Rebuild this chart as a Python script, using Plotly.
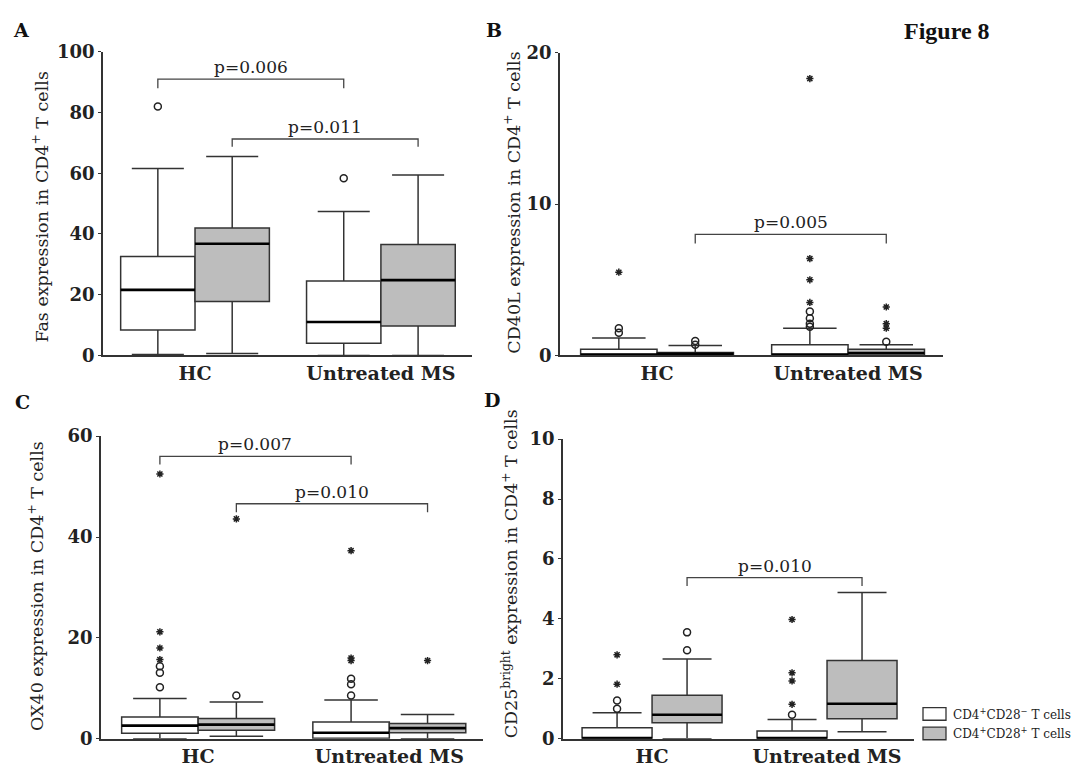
import plotly.graph_objects as go

W, H = 1077, 776

groups = ["HC", "Untreated MS"]
group_pos = [1, 2]
offset = 0.2
box_w = 0.4

# ---------- Panel A : Fas ----------
A_neg = dict(low=[0.3, 0.0], q1=[8.4, 4.0], med=[21.6, 11.0], q3=[32.6, 24.5], up=[61.6, 47.4])
A_pos = dict(low=[0.6, 0.0], q1=[17.8, 9.7], med=[36.8, 24.8], q3=[42.0, 36.5], up=[65.5, 59.4])
A_neg_circles = [[82.0], [58.4]]
A_neg_stars = [[], []]
A_pos_circles = [[], []]
A_pos_stars = [[], []]
A_ticks = [0, 20, 40, 60, 80, 100]
A_brackets = [(0.8, 1.8, 91.0, 88.0, "p=0.006"), (1.2, 2.2, 71.3, 68.7, "p=0.011")]

# ---------- Panel B : CD40L ----------
B_neg = dict(low=[0.0, 0.0], q1=[0.0, 0.0], med=[0.05, 0.05], q3=[0.4, 0.7], up=[1.15, 1.8])
B_pos = dict(low=[0.0, 0.0], q1=[0.0, 0.0], med=[0.1, 0.15], q3=[0.2, 0.4], up=[0.65, 0.7])
B_neg_circles = [[1.8, 1.5], [2.9, 2.45, 2.1, 1.9]]
B_neg_stars = [[5.5], [3.5, 5.0, 6.4, 18.3]]
B_pos_circles = [[0.7, 0.95], [0.9]]
B_pos_stars = [[], [1.8, 2.1, 3.2]]
B_ticks = [0, 10, 20]
B_brackets = [(1.2, 2.2, 8.0, 7.4, "p=0.005")]

# ---------- Panel C : OX40 ----------
C_neg = dict(low=[0.0, 0.0], q1=[1.1, 0.1], med=[2.6, 1.2], q3=[4.3, 3.3], up=[8.0, 7.7])
C_pos = dict(low=[0.5, 0.0], q1=[1.7, 1.2], med=[2.8, 2.1], q3=[4.0, 3.0], up=[7.3, 4.8])
C_neg_circles = [[10.2, 13.1, 14.4], [8.6, 10.8, 11.9]]
C_neg_stars = [[15.7, 18.0, 21.2, 52.5], [15.5, 16.0, 37.3]]
C_pos_circles = [[8.6], []]
C_pos_stars = [[43.6], [15.5]]
C_ticks = [0, 20, 40, 60]
C_brackets = [(0.8, 1.8, 56.0, 54.4, "p=0.007"), (1.2, 2.2, 46.6, 44.9, "p=0.010")]

# ---------- Panel D : CD25bright ----------
D_neg = dict(low=[0.0, 0.0], q1=[0.0, 0.0], med=[0.02, 0.02], q3=[0.37, 0.26], up=[0.87, 0.64])
D_pos = dict(low=[0.0, 0.23], q1=[0.53, 0.67], med=[0.8, 1.17], q3=[1.45, 2.61], up=[2.66, 4.88])
D_neg_circles = [[1.0, 1.28], [0.8]]
D_neg_stars = [[1.82, 2.8], [1.15, 1.93, 2.2, 3.98]]
D_pos_circles = [[2.95, 3.55], []]
D_pos_stars = [[], []]
D_ticks = [0, 2, 4, 6, 8, 10]
D_brackets = [(1.2, 2.2, 5.38, 5.1, "p=0.010")]

titles = [
    "Fas expression in CD4<sup>+</sup> T cells",
    "CD40L expression in CD4<sup>+</sup> T cells",
    "OX40 expression in CD4<sup>+</sup> T cells",
    "CD25<sup>bright</sup> expression in CD4<sup>+</sup> T cells",
]
letters = ["A", "B", "C", "D"]
legend_labels = ["CD4<sup>+</sup>CD28<sup>\u2212</sup> T cells", "CD4<sup>+</sup>CD28<sup>+</sup> T cells"]

WHITE = "#ffffff"
GRAY = "#bdbdbd"
LINE = "#333333"
SERIF = "DejaVu Serif"

panels = [
    dict(neg=A_neg, pos=A_pos, nc=A_neg_circles, ns=A_neg_stars, pc=A_pos_circles, ps=A_pos_stars,
         ticks=A_ticks, br=A_brackets, px=(103, 472), py=(42, 354), xr=(0.505, 2.49),
         title_xy=(40, 202), letter_xy=(21, 20)),
    dict(neg=B_neg, pos=B_pos, nc=B_neg_circles, ns=B_neg_stars, pc=B_pos_circles, ps=B_pos_stars,
         ticks=B_ticks, br=B_brackets, px=(560, 943), py=(43, 354), xr=(0.492, 2.497),
         title_xy=(512, 197), letter_xy=(494, 20)),
    dict(neg=C_neg, pos=C_pos, nc=C_neg_circles, ns=C_neg_stars, pc=C_pos_circles, ps=C_pos_stars,
         ticks=C_ticks, br=C_brackets, px=(101, 483), py=(437, 748), xr=(0.492, 2.49),
         title_xy=(36, 591), letter_xy=(22, 402)),
    dict(neg=D_neg, pos=D_pos, nc=D_neg_circles, ns=D_neg_stars, pc=D_pos_circles, ps=D_pos_stars,
         ticks=D_ticks, br=D_brackets, px=(563, 914), py=(440, 748), xr=(0.491, 2.497),
         title_xy=(510, 579), letter_xy=(492, 400)),
]

fig = go.Figure()
layout = dict(
    width=W, height=H, margin=dict(l=0, r=0, t=0, b=0),
    paper_bgcolor="white", plot_bgcolor="white", showlegend=False,
    font=dict(family=SERIF, size=16, color="#222"),
)
annotations = []
shapes = []

for i, p in enumerate(panels):
    k = "" if i == 0 else str(i + 1)
    xa, ya = "x" + k, "y" + k
    for stats, fill, sgn in [(p["neg"], WHITE, -1), (p["pos"], GRAY, 1)]:
        xs = [g + sgn * offset for g in group_pos]
        fig.add_trace(go.Box(
            x=xs, q1=stats["q1"], median=stats["med"], q3=stats["q3"],
            lowerfence=stats["low"], upperfence=stats["up"],
            width=box_w, whiskerwidth=0.7, fillcolor=fill,
            line=dict(color=LINE, width=1.5), boxpoints=False,
            xaxis=xa, yaxis=ya, hoverinfo="skip",
        ))
        mx, my = [], []
        for x, m in zip(xs, stats["med"]):
            mx += [x - box_w / 2, x + box_w / 2, None]
            my += [m, m, None]
        fig.add_trace(go.Scatter(x=mx, y=my, mode="lines", line=dict(color="#000", width=2.6),
                                 xaxis=xa, yaxis=ya, hoverinfo="skip"))
    for lists, sgn, sym, size in [(p["nc"], -1, "circle-open", 7), (p["pc"], 1, "circle-open", 7),
                                  (p["ns"], -1, "asterisk-open", 6), (p["ps"], 1, "asterisk-open", 6)]:
        ox, oy = [], []
        for g, vals in zip(group_pos, lists):
            for v in vals:
                ox.append(g + sgn * offset)
                oy.append(v)
        if ox:
            fig.add_trace(go.Scatter(x=ox, y=oy, mode="markers",
                                     marker=dict(symbol=sym, size=size, color="#222",
                                                 line=dict(width=1.5, color="#222")),
                                     xaxis=xa, yaxis=ya, hoverinfo="skip"))
    for (x0, x1, top, drop, txt) in p["br"]:
        fig.add_trace(go.Scatter(x=[x0, x0, x1, x1], y=[drop, top, top, drop], mode="lines",
                                 line=dict(color="#444", width=1.3), xaxis=xa, yaxis=ya,
                                 hoverinfo="skip"))
        annotations.append(dict(x=(x0 + x1) / 2, y=top, xref=xa, yref=ya, text=txt,
                                showarrow=False, yanchor="bottom", yshift=0,
                                font=dict(family=SERIF, size=17, color="#222")))
    px0, px1 = p["px"]
    pyt, pyb = p["py"]
    layout["xaxis" + k] = dict(
        domain=[px0 / W, px1 / W], range=list(p["xr"]), anchor=ya,
        tickvals=group_pos, ticktext=groups, showline=True, linecolor=LINE, linewidth=1.5,
        ticks="", showgrid=False, zeroline=False,
        tickfont=dict(family=SERIF, size=19, color="#222", weight="bold"),
    )
    layout["yaxis" + k] = dict(
        domain=[1 - pyb / H, 1 - pyt / H], range=[0, p["ticks"][-1]], anchor=xa,
        tickvals=p["ticks"], showline=True, linecolor=LINE, linewidth=1.5,
        ticks="outside", ticklen=3, tickcolor=LINE, showgrid=False, zeroline=False,
        tickfont=dict(family=SERIF, size=18, color="#222", weight="bold"),
    )
    tx, ty = p["title_xy"]
    annotations.append(dict(x=tx / W, y=1 - ty / H, xref="paper", yref="paper", text=titles[i],
                            textangle=-90, showarrow=False, xanchor="center", yanchor="middle",
                            font=dict(family=SERIF, size=17.5, color="#222")))
    lx, ly = p["letter_xy"]
    annotations.append(dict(x=lx / W, y=1 - ly / H, xref="paper", yref="paper", text=letters[i],
                            showarrow=False, xanchor="center", yanchor="middle",
                            font=dict(family=SERIF, size=19, color="#111", weight="bold")))

annotations.append(dict(x=947 / W, y=1 - 21 / H, xref="paper", yref="paper", text="Figure 8",
                        showarrow=False, xanchor="center", yanchor="middle",
                        font=dict(family="Liberation Serif", size=24, color="#111", weight="bold")))

for j, (fill, lab) in enumerate([(WHITE, legend_labels[0]), (GRAY, legend_labels[1])]):
    y0 = 716 + j * 20
    shapes.append(dict(type="rect", xref="paper", yref="paper",
                       x0=923 / W, x1=946 / W, y0=1 - (y0 + 13) / H, y1=1 - y0 / H,
                       fillcolor=fill, line=dict(color=LINE, width=1.3)))
    annotations.append(dict(x=951 / W, y=1 - (y0 + 6.5) / H, xref="paper", yref="paper", text=lab,
                            showarrow=False, xanchor="left", yanchor="middle",
                            font=dict(family=SERIF, size=12, color="#222")))

layout["annotations"] = annotations
layout["shapes"] = shapes
fig.update_layout(**layout)
fig.write_html("out.html")
